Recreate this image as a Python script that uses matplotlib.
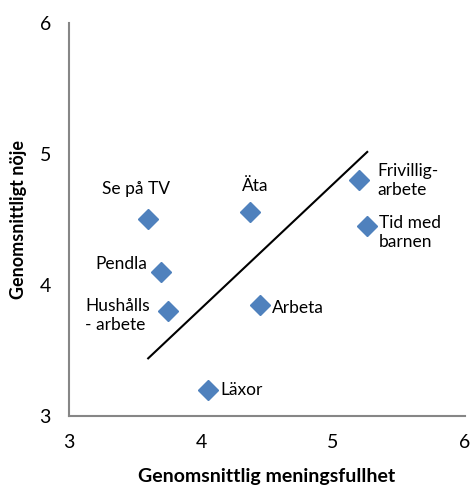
import matplotlib.pyplot as plt

plt.rcParams['font.family'] = ['Lato', 'DejaVu Sans']

labels = ['Se på TV', 'Pendla', 'Hushålls\n- arbete', 'Läxor', 'Äta',
          'Arbeta', 'Frivillig-\narbete', 'Tid med\nbarnen']
meaning = [3.60, 3.70, 3.75, 4.05, 4.37, 4.45, 5.20, 5.26]
pleasure = [4.50, 4.10, 3.80, 3.20, 4.56, 3.85, 4.80, 4.45]

trend_x = [3.60, 5.26]
trend_y = [3.44, 5.015]

# label placement (offset in pixels, alignment)
offsets = [(-12, 30, 'center', 'center'),
           (-14, 8, 'right', 'center'),
           (-18, 13, 'right', 'top'),
           (13, 0, 'left', 'center'),
           (5, 26, 'center', 'center'),
           (12, -3, 'left', 'center'),
           (18, 17, 'left', 'top'),
           (12, 11, 'left', 'top')]

fig = plt.figure(figsize=(4.71, 4.86), dpi=100)
ax = fig.add_axes([0.1465, 0.144, 0.8405, 0.809])

ax.plot(meaning, pleasure, 'D', color='#4F81BD', ms=10, zorder=3)
ax.plot(trend_x, trend_y, color='black', lw=1.5)

for x, y, lab, (dx, dy, ha, va) in zip(meaning, pleasure, labels, offsets):
    ax.annotate(lab, (x, y), xytext=(dx, dy), textcoords='offset pixels',
                ha=ha, va=va, fontsize=12.5, multialignment='left',
                linespacing=1.2)

ax.set_xlim(3, 6)
ax.set_ylim(3, 6)
ax.set_xticks([3, 4, 5, 6])
ax.set_yticks([3, 4, 5, 6])
ax.tick_params(length=0, labelsize=14, pad=13)

for s in ['top', 'right']:
    ax.spines[s].set_visible(False)
for s in ['left', 'bottom']:
    ax.spines[s].set_color('#868686')
    ax.spines[s].set_linewidth(1.5)

ax.set_xlabel('Genomsnittlig meningsfullhet', fontsize=14, fontweight='bold',
              labelpad=12)
ax.set_ylabel('Genomsnittligt nöje', fontsize=13, fontweight='bold',
              labelpad=9)

fig.savefig('out.png', dpi=100)
